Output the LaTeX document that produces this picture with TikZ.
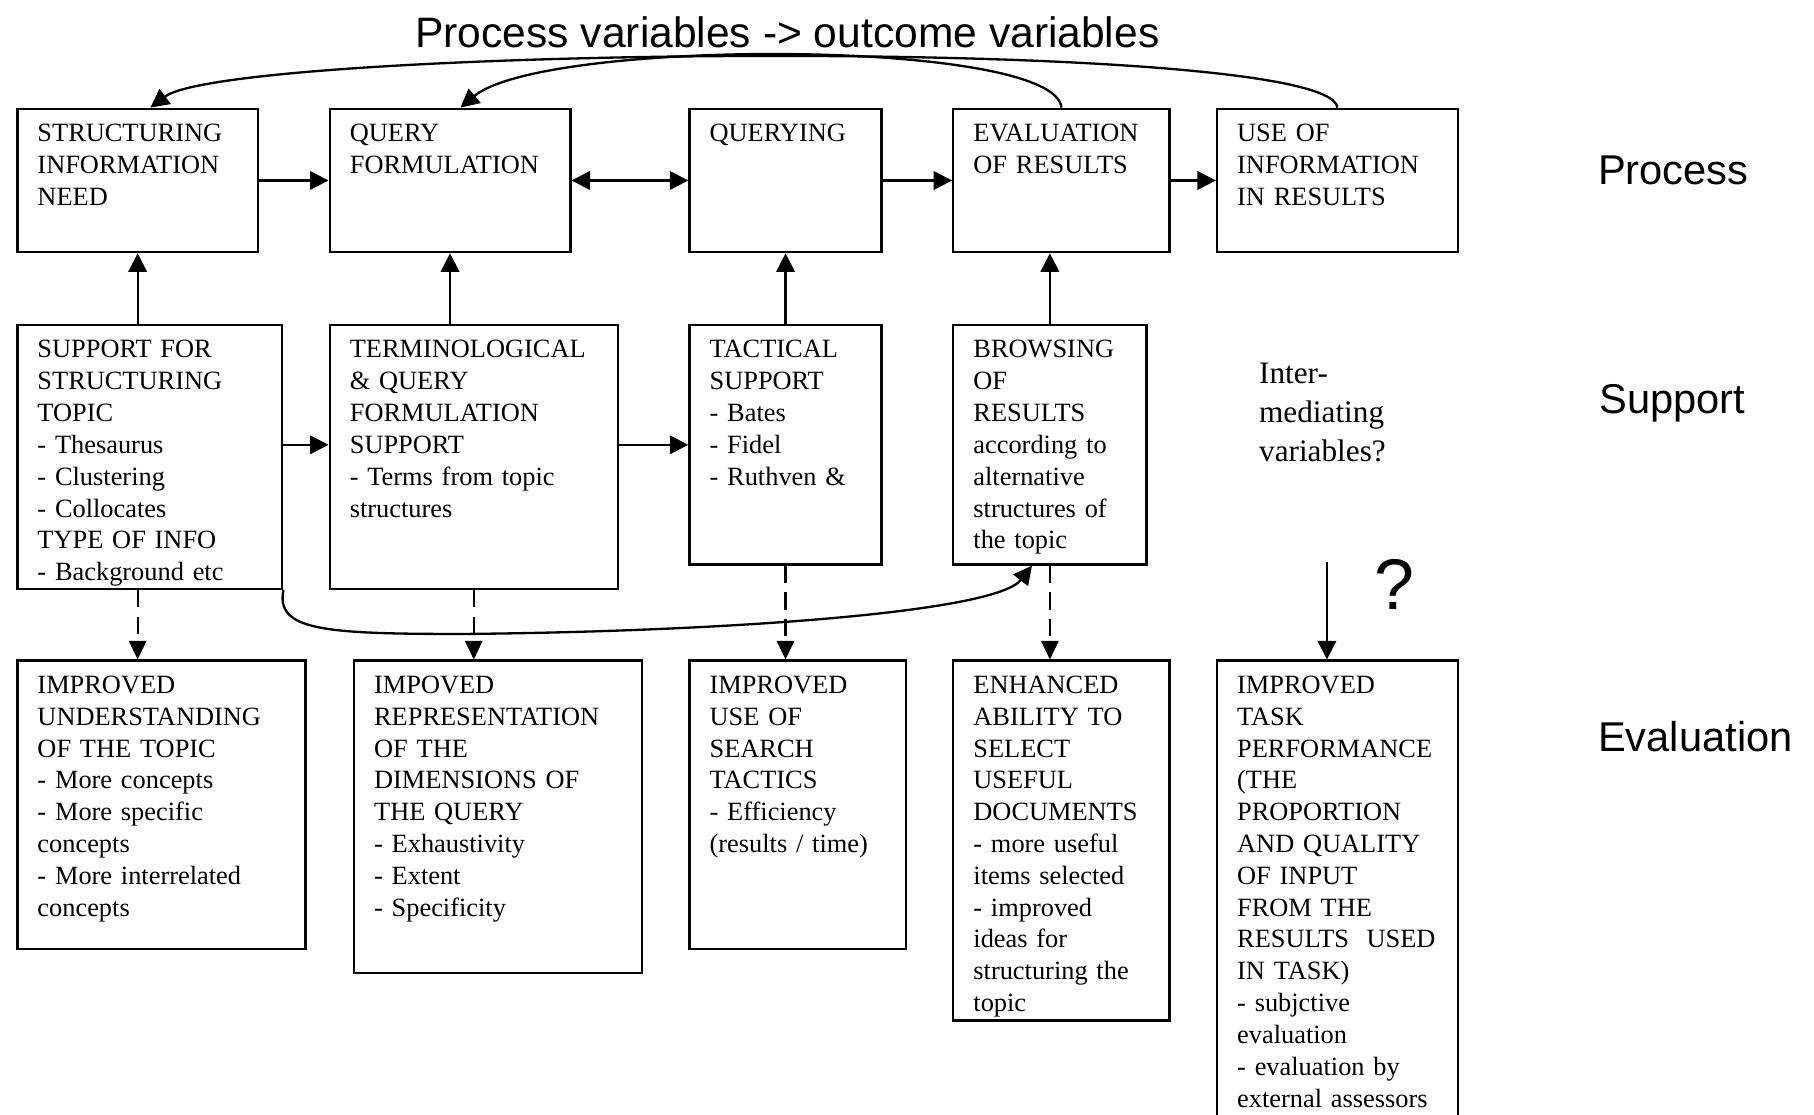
\documentclass[tikz,border=0pt]{standalone}
\usepackage{fontspec}
\setmainfont{Liberation Serif}
\newfontfamily\arialfont{Liberation Sans}
\usetikzlibrary{arrows.meta}
\newcommand\mkbox[6]{%
  \node[box, minimum width={(#4-#2)*0.5pt}, minimum height={(#5-#3)*0.5pt}] (#1) at (#2,#3) {};
  \node[txt] (#1-t) at (#2+18,#3+9.75) {\strut #6};
}
\begin{document}
\begin{tikzpicture}[x=0.5pt,y=-0.5pt,
  box/.style={draw, line width=1pt, inner sep=0pt, anchor=north west},
  txt/.style={anchor=north west, inner sep=0pt, align=left, text width=170pt,
    font=\fontsize{11.4}{13.75}\selectfont},
  conn/.style={line width=0.95pt, -{Triangle[length=8pt,width=8pt]}},
  dconn/.style={line width=0.9pt, dash pattern=on 7.5pt off 4pt, -{Triangle[length=8pt,width=7.5pt]}},
  curve/.style={line width=1pt, -{Triangle[length=8pt,width=8pt]}},
  lab/.style={anchor=base west, inner sep=0pt, font=\arialfont\fontsize{18}{21}\selectfont},
]
\useasboundingbox (0,0) rectangle (1568,963);
\clip (0,0) rectangle (1568,963);

% title and side labels
\node[lab, font=\arialfont\fontsize{18.4}{22}\selectfont] (title) at (358.6,41.3) {Process variables -> outcome variables};
\node[lab] (lproc) at (1381,159.7) {Process};
\node[lab] (lsupp) at (1382,357.7) {Support};
\node[lab] (leval) at (1381,649.8) {Evaluation};

% process row
\mkbox{B1}{14}{93}{222}{217}{STRUCTURING\\INFORMATION\\NEED}
\mkbox{B2}{284}{93}{492}{217}{QUERY\\FORMULATION}
\mkbox{B3}{595}{93}{761}{217}{QUERYING}
\mkbox{B4}{823}{93}{1010}{217}{EVALUATION\\OF RESULTS}
\mkbox{B5}{1051}{93}{1259}{217}{USE OF\\INFORMATION\\IN RESULTS}

% support row
\mkbox{S1}{14}{280}{243}{508}{SUPPORT FOR\\STRUCTURING\\TOPIC\\- Thesaurus\\- Clustering\\- Collocates\\TYPE OF INFO\\- Background etc}
\mkbox{S2}{284}{280}{533}{508}{TERMINOLOGICAL\\\& QUERY\\FORMULATION\\SUPPORT\\- Terms from topic\\structures}
\mkbox{S3}{595}{280}{761}{487}{TACTICAL\\SUPPORT\\- Bates\\- Fidel\\- Ruthven \&}
\mkbox{S4}{823}{280}{990}{487}{BROWSING\\OF\\RESULTS\\according to\\alternative\\structures of\\the topic}

\node[anchor=north west, inner sep=0pt, align=left, text width=120pt,
  font=\fontsize{13.5}{16.7}\selectfont] (inter) at (1088,308) {\strut Inter-\\mediating\\variables?};

% evaluation row
\mkbox{E1}{14}{570}{263}{819}{IMPROVED\\UNDERSTANDING\\OF THE TOPIC\\- More concepts\\- More specific\\concepts\\- More interrelated\\concepts}
\mkbox{E2}{305}{570}{554}{840}{IMPOVED\\REPRESENTATION\\OF THE\\DIMENSIONS OF\\THE QUERY\\- Exhaustivity\\- Extent\\- Specificity}
\mkbox{E3}{595}{570}{782}{819}{IMPROVED\\USE OF\\SEARCH\\TACTICS\\- Efficiency\\(results / time)}
\mkbox{E4}{823}{570}{1010}{881}{ENHANCED\\ABILITY TO\\SELECT\\USEFUL\\DOCUMENTS\\- more useful\\items selected\\- improved\\ideas for\\structuring the\\topic}
\mkbox{E5}{1051}{570}{1259}{1000}{IMPROVED\\TASK\\PERFORMANCE\\(THE\\PROPORTION\\AND QUALITY\\OF INPUT\\FROM THE\\RESULTS~ USED\\IN TASK)\\- subjctive\\evaluation\\- evaluation by\\external assessors}

% question mark
\node[anchor=base west, inner sep=0pt, font=\arialfont\fontsize{31}{36}\selectfont] (qm) at (1188,527) {?};
\coordinate (q) at (1147,486);

% process row connectors
\draw[conn] (B1.east) -- (B2.west);
\draw[line width=0.95pt, {Triangle[length=8pt,width=8pt]}-{Triangle[length=8pt,width=8pt]}] (B2.east) -- (B3.west);
\draw[conn] (B3.east) -- (B4.west);
\draw[conn] (B4.east) -- (B5.west);

% support to process
\draw[conn] (S1.north -| B1.south) -- (B1.south);
\draw[conn] (S2.north -| B2.south) -- (B2.south);
\draw[conn] (S3.north) -- (B3.south);
\draw[conn] (S4.north) -- (S4.north |- B4.south);

% support row connectors
\draw[conn] (S1.east |- S3.west) -- (S2.west |- S3.west);
\draw[conn] (S2.east |- S3.west) -- (S3.west);

% support to evaluation (dashed)
\draw[dconn] (S1.south -| B1.south) -- (E1.north -| B1.south);
\draw[dconn] (S2.south) -- (S2.south |- E2.north);
\draw[dconn] (S3.south) -- (S3.south |- E3.north);
\draw[dconn] (S4.south) -- (S4.south |- E4.north);
\draw[line width=0.8pt, -{Triangle[length=8pt,width=8pt]}] (q) -- (q |- E5.north);

% feedback curves on top
\draw[curve] (B5.north) .. controls (1150,30) and (200,40) .. ([xshift=5.5pt]B1.north);
\draw[curve] (B4.north) .. controls (912,33) and (470,33) .. ([xshift=4.5pt]B2.north);

% bottom curve
\draw[curve] (S1.south east) .. controls (238,545) and (280,548) .. (400,548)
  .. controls (620,546) and (860,530) .. ([xshift=-7.75pt]S4.south);
\end{tikzpicture}
\end{document}
